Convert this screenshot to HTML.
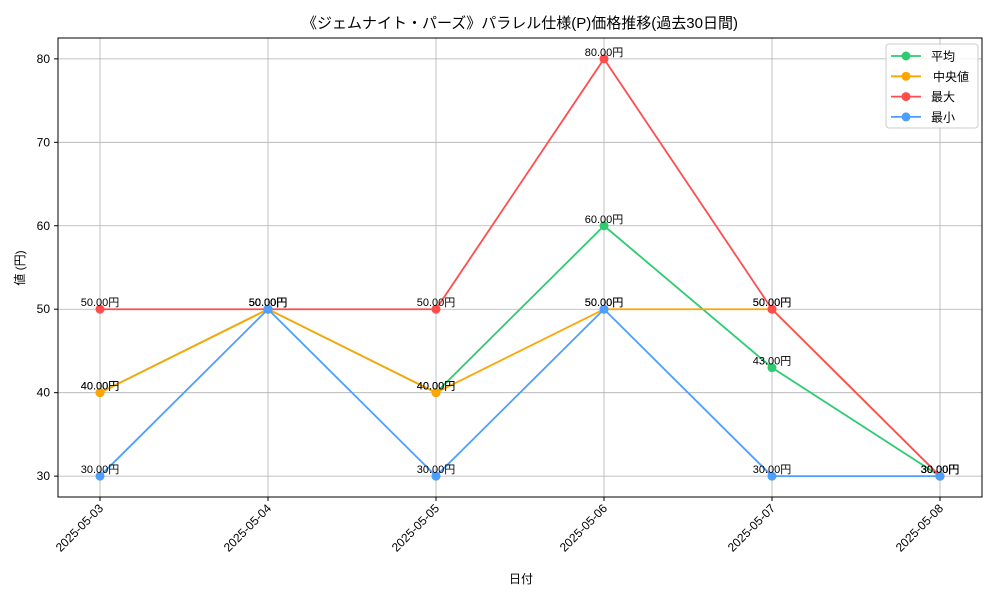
<!DOCTYPE html>
<html><head><meta charset="utf-8"><style>
body{margin:0;background:#fff;}
svg{display:block;font-family:"Liberation Sans","Noto Sans CJK JP",sans-serif;}
</style></head><body>
<svg id="chart" width="1000" height="600" xmlns="http://www.w3.org/2000/svg">
<rect width="1000" height="600" fill="#fff"/>
<text x="520" y="28" font-size="15" text-anchor="middle" fill="#000">《ジェムナイト・パーズ》パラレル仕様(P)価格推移(過去30日間)</text>
<g id="grid"></g>
<g id="series"></g>
<rect x="58" y="38" width="924" height="459" fill="none" stroke="#000" stroke-width="1"/>
<g id="axes"></g>
<text x="521" y="583" font-size="12" text-anchor="middle">日付</text>
<text transform="translate(24,268) rotate(-90)" font-size="12" text-anchor="middle">値 (円)</text>
<g id="legend"></g>
</svg>
<script>
const categories=["2025-05-03","2025-05-04","2025-05-05","2025-05-06","2025-05-07","2025-05-08"];
const avgValues=[40,50,40,60,43,30];
const medianValues=[40,50,40,50,50,30];
const maxValues=[50,50,50,80,50,30];
const minValues=[30,50,30,50,30,30];
const yTicks=[30,40,50,60,70,80];
const seriesNames=["平均","中央値","最大","最小"];
const NS="http://www.w3.org/2000/svg";
const L=58,R=982,T=38,B=497;
const xs=i=>L+(i+0.25)/5.5*(R-L);
const ys=v=>B-(v-27.5)/55*(B-T);
function mk(tag,attrs,parent){const e=document.createElementNS(NS,tag);for(const k in attrs)e.setAttribute(k,attrs[k]);parent.appendChild(e);return e;}
const grid=document.getElementById('grid'),axes=document.getElementById('axes'),ser=document.getElementById('series');
categories.forEach((c,i)=>{
  const x=xs(i);
  const g=mk('line',{x1:x,x2:x,y1:T,y2:B,stroke:'#b0b0b0','stroke-width':0.8},grid);
  
  
  mk('line',{x1:x,x2:x,y1:B,y2:B+4,stroke:'#000'},axes);
  const t=mk('text',{x:0,y:0,'font-size':12,'text-anchor':'end',transform:`translate(${x+4},${B+12}) rotate(-45)`},axes);
  t.textContent=c;
  
  
});
yTicks.forEach(v=>{
  const y=ys(v);
  const g=mk('line',{x1:L,x2:R,y1:y,y2:y,stroke:'#b0b0b0','stroke-width':0.8},grid);
  
  
  mk('line',{x1:L-4,x2:L,y1:y,y2:y,stroke:'#000'},axes);
  const t=mk('text',{x:L-8,y:y+4,'font-size':12,'text-anchor':'end'},axes);
  t.textContent=v;
  
  
});
const series=[[avgValues,'#2ecc71'],[medianValues,'#ffa500'],[maxValues,'#ff4d4d'],[minValues,'#4d9fff']];
series.forEach(([vals,col],si)=>{
  const g=mk('g',{},ser);
  
  
  const p=mk('polyline',{points:vals.map((v,i)=>xs(i)+','+ys(v)).join(' '),fill:'none',stroke:col,'stroke-width':1.8},g);
  
  
  vals.forEach((v,i)=>{
    const c=mk('circle',{cx:xs(i),cy:ys(v),r:4.5,fill:col},g);
    
    
    const t=mk('text',{x:xs(i),y:ys(v)-3,'font-size':11,'text-anchor':'middle',fill:'#000'},g);
    t.textContent=v.toFixed(2)+'円';
    
    
  });
});
const lg=document.getElementById('legend');
mk('rect',{x:886,y:44,width:92,height:84,rx:3,fill:'#fff','fill-opacity':0.8,stroke:'#ccc'},lg);
seriesNames.forEach((n,i)=>{
  const y=56+i*20.3,col=series[i][1];
  const e=mk('g',{},lg);
  
  
  mk('line',{x1:891,x2:921,y1:y,y2:y,stroke:col,'stroke-width':1.8},e);
  mk('circle',{cx:906,cy:y,r:4.5,fill:col},e);
  const t=mk('text',{x:i==1?933:931,y:y+4.5,'font-size':12},e);
  t.textContent=n;
});
</script>
</body></html>
